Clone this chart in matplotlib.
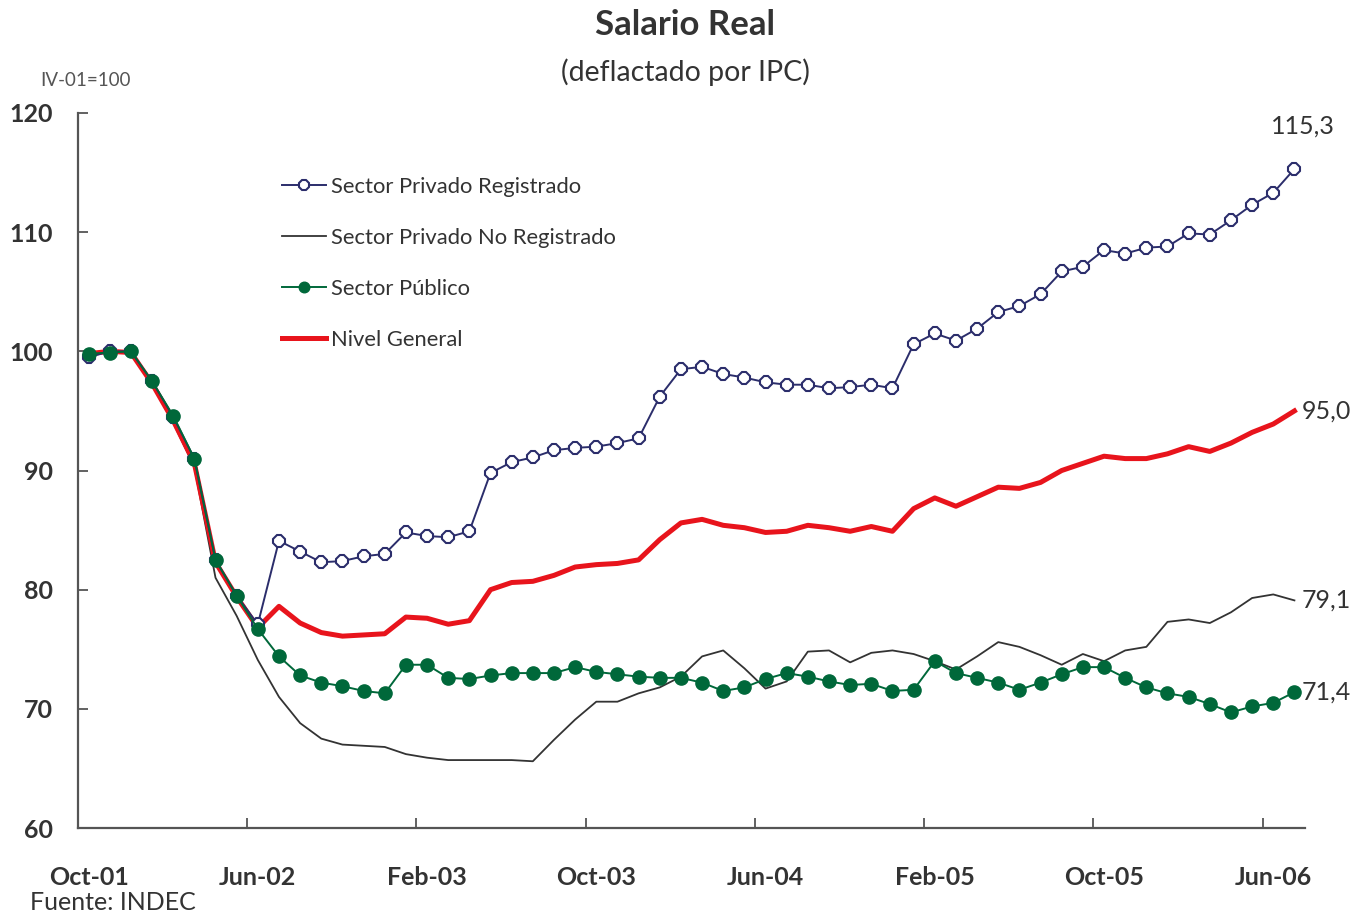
import numpy as np
import matplotlib.pyplot as plt

plt.rcParams['font.family'] = ['Lato', 'DejaVu Sans']

# Series mensuales, Oct-01 a Jul-06 (IV-01=100)
privado_reg = [99.5, 100.0, 100.0, 97.5, 94.5, 91.0, 82.5, 79.5, 77.1, 84.1,
               83.2, 82.3, 82.4, 82.8, 83.0, 84.8, 84.5, 84.4, 84.9, 89.8,
               90.7, 91.1, 91.7, 91.9, 92.0, 92.3, 92.7, 96.2, 98.5, 98.7,
               98.1, 97.8, 97.4, 97.2, 97.2, 96.9, 97.0, 97.2, 96.9, 100.6,
               101.5, 100.9, 101.9, 103.3, 103.8, 104.8, 106.7, 107.1, 108.5, 108.2,
               108.7, 108.8, 109.9, 109.8, 111.0, 112.3, 113.3, 115.3]
privado_noreg = [99.8, 100.0, 100.0, 97.3, 94.0, 90.3, 81.0, 77.8, 74.1, 71.0,
                 68.8, 67.5, 67.0, 66.9, 66.8, 66.2, 65.9, 65.7, 65.7, 65.7,
                 65.7, 65.6, 67.4, 69.1, 70.6, 70.6, 71.3, 71.8, 72.7, 74.4,
                 74.9, 73.4, 71.7, 72.3, 74.8, 74.9, 73.9, 74.7, 74.9, 74.6,
                 74.0, 73.3, 74.4, 75.6, 75.2, 74.5, 73.7, 74.6, 74.0, 74.9,
                 75.2, 77.3, 77.5, 77.2, 78.1, 79.3, 79.6, 79.1]
sector_publico = [99.8, 99.9, 100.0, 97.5, 94.6, 91.0, 82.5, 79.5, 76.7, 74.4,
                  72.8, 72.2, 71.9, 71.5, 71.3, 73.7, 73.7, 72.6, 72.5, 72.8,
                  73.0, 73.0, 73.0, 73.5, 73.1, 72.9, 72.7, 72.6, 72.6, 72.2,
                  71.5, 71.8, 72.5, 73.0, 72.7, 72.3, 72.0, 72.1, 71.5, 71.6,
                  74.0, 73.0, 72.6, 72.2, 71.6, 72.2, 72.9, 73.5, 73.5, 72.6,
                  71.8, 71.3, 71.0, 70.4, 69.7, 70.2, 70.5, 71.4]
nivel_general = [99.8, 100.0, 99.9, 97.3, 94.2, 90.6, 82.3, 79.4, 76.8, 78.6,
                 77.2, 76.4, 76.1, 76.2, 76.3, 77.7, 77.6, 77.1, 77.4, 80.0,
                 80.6, 80.7, 81.2, 81.9, 82.1, 82.2, 82.5, 84.2, 85.6, 85.9,
                 85.4, 85.2, 84.8, 84.9, 85.4, 85.2, 84.9, 85.3, 84.9, 86.8,
                 87.7, 87.0, 87.8, 88.6, 88.5, 89.0, 90.0, 90.6, 91.2, 91.0,
                 91.0, 91.4, 92.0, 91.6, 92.3, 93.2, 93.9, 95.0]

etiquetas_x = ['Oct-01', 'Jun-02', 'Feb-03', 'Oct-03', 'Jun-04', 'Feb-05', 'Oct-05', 'Jun-06']
paso_x = 8
valores_y = [60, 70, 80, 90, 100, 110, 120]

AZUL = '#2b2d6b'
VERDE = '#00683a'
ROJO = '#e8141c'
NEGRO = '#333333'
TEXTO = '#333333'

x = np.arange(len(privado_reg))

fig = plt.figure(figsize=(13.55, 9.13), dpi=100)
ax = fig.add_axes([78 / 1355, 85 / 913, 1227 / 1355, 715 / 913])

ax.plot(x, privado_noreg, color=NEGRO, lw=1.3, zorder=2,
        label='Sector Privado No Registrado')
ax.plot(x, nivel_general, color=ROJO, lw=3.6, zorder=3, label='Nivel General',
        solid_joinstyle='round')
ax.plot(x, privado_reg, color=AZUL, lw=1.4, marker='8', ms=9, mfc='white',
        mec=AZUL, mew=1.5, zorder=4, label='Sector Privado Registrado')
ax.plot(x, sector_publico, color=VERDE, lw=1.4, marker='o', ms=9.5, mfc=VERDE,
        mec=VERDE, zorder=5, label='Sector Público')

ax.set_xlim(-0.5, len(x) - 0.5)
ax.set_ylim(60, 120)

for s in ['top', 'right']:
    ax.spines[s].set_visible(False)
for s in ['left', 'bottom']:
    ax.spines[s].set_color('#555555')
    ax.spines[s].set_linewidth(1.6)

# marcas en los bordes de las categorias, etiquetas en su centro
pos_lab = np.arange(0, len(x), paso_x)[:len(etiquetas_x)]
ax.set_xticks(pos_lab[1:] - 0.5)
ax.set_xticklabels([])
ax.set_xticks(pos_lab, minor=True)
ax.set_xticklabels(etiquetas_x, minor=True, fontsize=18, fontweight='bold', color=TEXTO)
ax.tick_params(axis='x', which='major', direction='in', length=7, width=1.3, color='#555555')
ax.tick_params(axis='x', which='minor', length=0, pad=27)

ax.set_yticks(valores_y)
ax.set_yticklabels([str(v) for v in valores_y], fontsize=18, fontweight='bold', color=TEXTO)
ax.tick_params(axis='y', direction='in', length=7, width=1.3, color='#555555', pad=18)

# leyenda
h = dict((l.get_label(), l) for l in ax.get_lines())
orden = ['Sector Privado Registrado', 'Sector Privado No Registrado', 'Sector Público', 'Nivel General']
leg = ax.legend([h[k] for k in orden], orden, loc='upper left',
                bbox_to_anchor=(262 / 1355, 1 - 157 / 913), bbox_transform=fig.transFigure,
                frameon=False, fontsize=15.8, handlelength=2.0, handletextpad=0.25,
                labelspacing=1.41, markerscale=0.8)
for t in leg.get_texts():
    t.set_color(TEXTO)

# valores finales
fin = len(x) - 1
ax.annotate('115,3', xy=(fin, privado_reg[-1]), xytext=(6, 31), textcoords='offset points',
            ha='center', va='center', fontsize=18, color=TEXTO)
for serie in [nivel_general, privado_noreg, sector_publico]:
    ax.annotate(f'{serie[-1]:.1f}'.replace('.', ','), xy=(fin, serie[-1]), xytext=(5, 0),
                textcoords='offset points', ha='left', va='center', fontsize=18, color=TEXTO)

fig.text(685 / 1355, 1 - 25 / 913, 'Salario Real', ha='center', va='center',
         fontsize=25, fontweight='bold', color=TEXTO)
fig.text(685 / 1355, 1 - 72 / 913, '(deflactado por IPC)', ha='center', va='center',
         fontsize=20.5, color=TEXTO)
fig.text(40 / 1355, 1 - 80 / 913, 'IV-01=100', ha='left', va='center',
         fontsize=13.5, color='#555555')
fig.text(30 / 1355, 1 - 902 / 913, 'Fuente: INDEC', ha='left', va='center',
         fontsize=18, color=TEXTO)

fig.savefig('out.png', dpi=100)
